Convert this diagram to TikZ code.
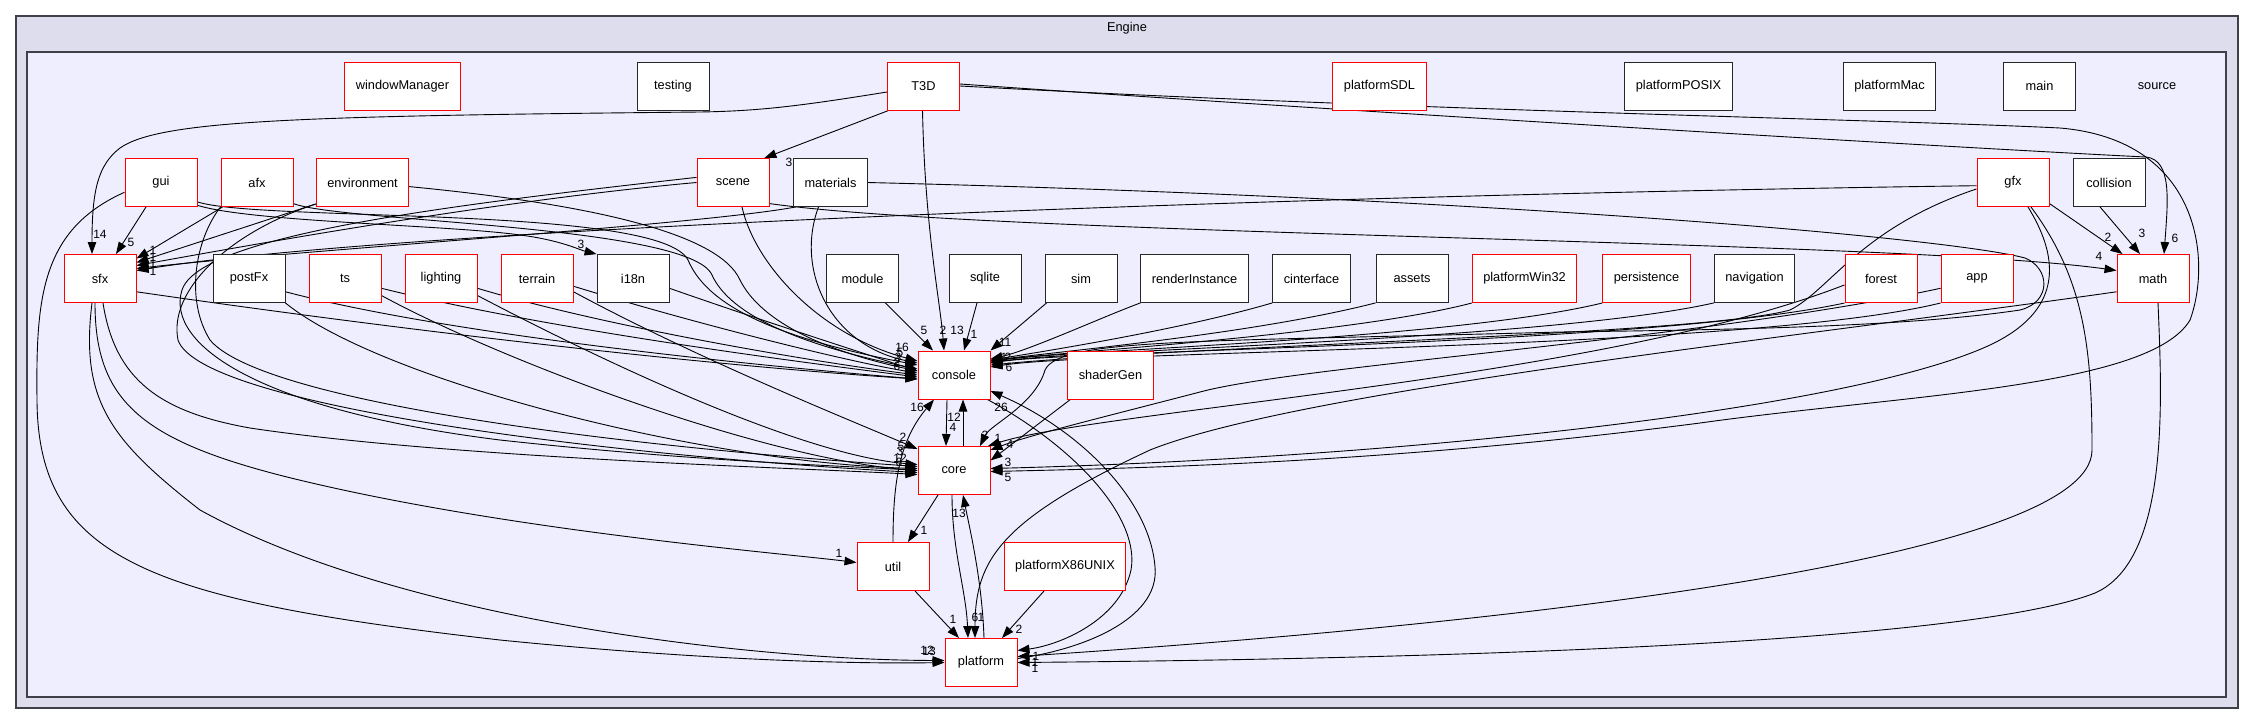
\documentclass[tikz,border=0pt]{standalone}
\usepackage{fontspec}
\setmainfont{Liberation Sans}
\usepackage{xcolor}
\usepackage{tikz}
\usetikzlibrary{arrows.meta,backgrounds}
\definecolor{clusterbg}{HTML}{DDDDEE}
\definecolor{sourcebg}{HTML}{EEEEFF}
\definecolor{frameline}{HTML}{404048}
\tikzset{
  >={Triangle[length=12pt,width=8.5pt]},
  every node/.style={font=\fontsize{12.8}{15}\selectfont,text=black},
  dirbox/.style={draw=black!85,line width=0.8pt,fill=white,minimum width=72pt,minimum height=48pt,inner xsep=11pt},
  subdirbox/.style={dirbox,draw=red,line width=1pt},
  dep/.style={->,line width=0.9pt,draw=black},
  num/.style={font=\fontsize{12}{14}\selectfont,inner sep=0pt}
}

\begin{document}
\begin{tikzpicture}[x=1pt,y=-1pt]
  \useasboundingbox (0,0) rectangle (2253,724);
  \begin{scope}[on background layer]
    \draw[fill=clusterbg,draw=frameline,line width=1.6pt] (16,16) rectangle (2238,708);
    \draw[fill=sourcebg,draw=frameline,line width=1.3pt] (27,52) rectangle (2226,697);
  \end{scope}
  \node (engine) at (1127,28) {Engine};
  \node (source) at (2157,86) {source};

  % directories
  \node[subdirbox] (windowManager) at (402.5,86) {windowManager};
  \node[dirbox] (testing) at (673,86) {testing};
  \node[subdirbox] (T3D) at (923.5,86) {T3D};
  \node[subdirbox] (platformSDL) at (1379.5,86) {platformSDL};
  \node[dirbox] (platformPOSIX) at (1678.5,86) {platformPOSIX};
  \node[dirbox] (platformMac) at (1889.5,86) {platformMac};
  \node[dirbox] (main) at (2039.5,86) {main};

  \node[subdirbox] (gui) at (161,182.5) {gui};
  \node[subdirbox] (afx) at (257,182.5) {afx};
  \node[subdirbox] (environment) at (362.5,182.5) {environment};
  \node[subdirbox] (scene) at (733,182.5) {scene};
  \node[dirbox] (materials) at (830.5,182.5) {materials};
  \node[subdirbox] (gfx) at (2013,182.5) {gfx};
  \node[dirbox] (collision) at (2109,182.5) {collision};

  \node[subdirbox] (sfx) at (100,278.5) {sfx};
  \node[dirbox] (postFx) at (249,278.5) {postFx};
  \node[subdirbox] (ts) at (345,278.5) {ts};
  \node[subdirbox] (lighting) at (441,278.5) {lighting};
  \node[subdirbox] (terrain) at (537,278.5) {terrain};
  \node[dirbox] (i18n) at (633,278.5) {i18n};
  \node[dirbox] (module) at (862.5,278.5) {module};
  \node[dirbox] (sqlite) at (985,278.5) {sqlite};
  \node[dirbox] (sim) at (1081,278.5) {sim};
  \node[dirbox] (renderInstance) at (1194.5,278.5) {renderInstance};
  \node[dirbox] (cinterface) at (1311.5,278.5) {cinterface};
  \node[dirbox] (assets) at (1412,278.5) {assets};
  \node[subdirbox] (platformWin32) at (1524.5,278.5) {platformWin32};
  \node[subdirbox] (persistence) at (1646.5,278.5) {persistence};
  \node[dirbox] (navigation) at (1754.5,278.5) {navigation};
  \node[subdirbox] (forest) at (1881,278.5) {forest};
  \node[subdirbox] (app) at (1977,278.5) {app};
  \node[subdirbox] (math) at (2153,278.5) {math};

  \node[subdirbox] (console) at (954,375) {console};
  \node[subdirbox] (shaderGen) at (1110.5,375) {shaderGen};
  \node[subdirbox] (core) at (954,470.5) {core};
  \node[subdirbox] (util) at (893,566.5) {util};
  \node[subdirbox] (platformX86UNIX) at (1065,566.5) {platformX86UNIX};
  \node[subdirbox] (platform) at (981,662.5) {platform};

  \begin{scope}[on background layer]
  % into sfx
  \draw[dep] ([yshift=-6]T3D.west) .. controls (800,106) and (760,111) .. (700,112) .. controls (300,116) and (160,120) .. (120,148) .. controls (98,165) and (92,190) .. ([xshift=-8]sfx.north);
  \draw[dep] ([xshift=-15]gui.south) -- ([xshift=16]sfx.north);
  \draw[dep] ([xshift=2]afx.south west) -- ([yshift=20]sfx.east);
  \draw[dep] ([yshift=3]environment.south west) -- ([yshift=16]sfx.east);
  \draw[dep] (scene.west) .. controls (500,200) and (250,245) .. ([yshift=13]sfx.east);
  \draw[dep] ([xshift=3]materials.south west) .. controls (700,225) and (300,250) .. ([yshift=10]sfx.east);
  \draw[dep] (gfx.185) .. controls (1300,195) and (400,228) .. ([yshift=8]sfx.east);

  % into console from the left
  \draw[dep] (gui.-28) .. controls (260,222) and (660,205) .. (688,260) .. controls (705,300) and (760,335) .. ([yshift=10]console.west);
  \draw[dep] (afx.-30) .. controls (340,222) and (690,225) .. (712,275) .. controls (730,315) and (800,345) .. ([yshift=6]console.west);
  \draw[dep] (environment.-5) .. controls (600,205) and (720,235) .. (740,280) .. controls (760,320) and (820,350) .. ([yshift=4]console.west);
  \draw[dep] ([xshift=9]scene.south) .. controls (755,265) and (820,335) .. ([yshift=14]console.west);
  \draw[dep] ([xshift=-12]materials.south) .. controls (795,270) and (830,345) .. ([yshift=12]console.west);
  \draw[dep] (sfx.-20) .. controls (400,330) and (700,365) .. ([yshift=-4]console.west);
  \draw[dep] (postFx.-20) .. controls (450,335) and (750,365) .. ([yshift=-4]console.west);
  \draw[dep] (ts.-15) .. controls (550,330) and (800,362) .. ([yshift=-2]console.west);
  \draw[dep] (lighting.-15) .. controls (600,325) and (800,360) .. (console.west);
  \draw[dep] (terrain.-12) .. controls (700,325) and (850,362) .. ([yshift=2]console.west);
  \draw[dep] (i18n.-15) .. controls (760,320) and (860,352) .. ([yshift=4]console.west);

  % into console from above and the right
  \draw[dep] ([xshift=-1]T3D.south) .. controls (925,230) and (940,300) .. ([xshift=-10]console.north);
  \draw[dep] ([xshift=23]module.south) -- ([xshift=-21]console.north);
  \draw[dep] ([xshift=-8]sqlite.south) -- ([xshift=10]console.north);
  \draw[dep] ([xshift=2]sim.south west) -- (console.north east);
  \draw[dep] (renderInstance.south west) .. controls (1100,318) and (1030,350) .. ([yshift=16]console.east);
  \draw[dep] (cinterface.south west) .. controls (1180,330) and (1040,352) .. ([yshift=15]console.east);
  \draw[dep] (assets.south west) .. controls (1250,335) and (1050,352) .. ([yshift=14]console.east);
  \draw[dep] (platformWin32.south west) .. controls (1350,335) and (1060,352) .. ([yshift=14]console.east);
  \draw[dep] (persistence.south west) .. controls (1450,340) and (1060,350) .. ([yshift=13]console.east);
  \draw[dep] (navigation.south west) .. controls (1550,340) and (1070,350) .. ([yshift=12]console.east);
  \draw[dep] (forest.south west) .. controls (1650,345) and (1080,350) .. ([yshift=12]console.east);
  \draw[dep] (app.south west) .. controls (1750,350) and (1100,350) .. ([yshift=8]console.east);
  \draw[dep] (gfx.-170) .. controls (1860,228) and (1830,290) .. (1790,310) .. controls (1700,335) and (1200,345) .. ([yshift=10]console.east);

  % into core
  \draw[dep] (afx.south west) .. controls (195,240) and (185,300) .. (210,340) .. controls (260,400) and (600,445) .. ([yshift=4]core.west);
  \draw[dep] ([yshift=3]environment.south west) .. controls (230,232) and (168,290) .. (178,340) .. controls (200,405) and (600,455) .. ([yshift=-2]core.west);
  \draw[dep] (scene.172) .. controls (450,205) and (200,235) .. (182,290) .. controls (165,345) and (260,410) .. (500,440) .. controls (700,462) and (850,466) .. (core.west);
  \draw[dep] ([xshift=3]sfx.south) .. controls (115,380) and (160,412) .. (250,428) .. controls (450,458) and (800,468) .. ([yshift=-4]core.west);
  \draw[dep] (postFx.south east) .. controls (380,380) and (700,462) .. ([yshift=2]core.west);
  \draw[dep] (ts.-25) .. controls (500,360) and (760,458) .. (core.west);
  \draw[dep] (lighting.-25) .. controls (600,360) and (800,455) .. ([yshift=6]core.west);
  \draw[dep] (terrain.-20) .. controls (700,360) and (850,420) .. ([yshift=-3]core.north west);
  \draw[dep] (materials.east) .. controls (1500,198) and (1950,238) .. (2025,258) .. controls (2050,268) and (2052,302) .. (2020,310) .. controls (1900,328) and (1700,330) .. (1560,332) .. controls (1200,342) and (1060,338) .. (1045,370) .. controls (1035,405) and (990,425) .. ([xshift=26]core.north);
  \draw[dep] (forest.-170) .. controls (1600,380) and (1100,410) .. ([xshift=34]core.north);
  \draw[dep] (app.-165) .. controls (1700,340) and (1300,365) .. (1200,392) .. controls (1100,418) and (1030,435) .. ([yshift=-4]core.north east);
  \draw[dep] ([xshift=3]shaderGen.south west) -- ([yshift=10]core.east);
  \draw[dep] ([xshift=15]gfx.south) .. controls (2062,262) and (2060,312) .. (1990,345) .. controls (1850,410) and (1400,458) .. ([yshift=2]core.east);
  \draw[dep] (T3D.east) .. controls (1400,110) and (1900,120) .. (2060,128) .. controls (2200,140) and (2212,260) .. (2190,320) .. controls (2150,388) and (1900,395) .. (1700,423) .. controls (1400,462) and (1150,468) .. ([yshift=-1]core.east);

  % console, core, util, platform
  \draw[dep] ([xshift=-7]console.south) -- ([xshift=-8]core.north);
  \draw[dep] ([xshift=9]core.north) -- ([xshift=9]console.south);
  \draw[dep] (util.north) .. controls (893,480) and (900,440) .. ([xshift=-20]console.south);
  \draw[dep] ([xshift=-16]core.south) -- ([xshift=15]util.north);
  \draw[dep] ([xshift=-2]core.south) .. controls (952,550) and (966,590) .. ([xshift=-13]platform.north);
  \draw[dep] ([xshift=3]platform.north) .. controls (982,580) and (970,530) .. ([xshift=9]core.south);
  \draw[dep] ([xshift=22]util.south) -- ([xshift=-22]platform.north);
  \draw[dep] ([xshift=-21]platformX86UNIX.south) -- ([xshift=21]platform.north);
  \draw[dep] ([xshift=-3]console.south east) .. controls (1080,450) and (1140,520) .. (1131,570) .. controls (1120,620) and (1060,645) .. ([yshift=12]platform.east);
  \draw[dep] ([yshift=4]platform.east) .. controls (1080,650) and (1160,620) .. (1155,567) .. controls (1150,500) and (1080,430) .. ([yshift=-16]console.east);
  \draw[dep] ([xshift=-5]sfx.south) .. controls (95,400) and (140,440) .. (287,477) .. controls (500,530) and (780,553) .. ([yshift=4]util.west);
  \draw[dep] ([xshift=-8]sfx.south) .. controls (80,400) and (110,440) .. (200,510) .. controls (400,620) and (750,660) .. ([yshift=2]platform.west);
  \draw[dep] (gui.-165) .. controls (40,230) and (36,300) .. (37,400) .. controls (38,560) and (150,600) .. (500,640) .. controls (700,660) and (850,664) .. (platform.west);
  \draw[dep] ([xshift=18]gfx.south) .. controls (2085,280) and (2092,350) .. (2092,450) .. controls (2092,560) and (1500,625) .. ([yshift=6]platform.east);
  \draw[dep] ([xshift=5]math.south) .. controls (2162,400) and (2170,560) .. (2095,593) .. controls (1950,650) and (1300,660) .. (platform.east);
  \draw[dep] (math.-160) .. controls (1800,337) and (1300,390) .. (1150,450) .. controls (1000,520) and (975,560) .. ([xshift=-6]platform.north);

  % into math and i18n
  \draw[dep] ([yshift=2]T3D.east) .. controls (1400,115) and (2000,150) .. (2146,157) .. controls (2172,160) and (2168,200) .. ([xshift=11]math.north);
  \draw[dep] (scene.-30) .. controls (1000,236) and (1900,240) .. ([yshift=8]math.west);
  \draw[dep] (gfx.-30) -- ([xshift=6]math.north west);
  \draw[dep] ([xshift=-9]collision.south) -- ([xshift=-13]math.north);
  \draw[dep] (T3D.215) -- (scene.38);
  \draw[dep] (gui.-32) .. controls (250,222) and (450,225) .. (520,235) .. controls (560,240) and (580,250) .. (i18n.north west);
  \end{scope}

  % counts
  \node[num] (c1) at (100,234) {14};
  \node[num] (c2) at (131,242) {5};
  \node[num] (c3) at (153,250) {1};
  \node[num] (c4) at (153,257) {1};
  \node[num] (c5) at (153,264) {1};
  \node[num] (c6) at (153,271) {1};
  \node[num] (c7) at (789,162) {3};
  \node[num] (c8) at (581,244) {3};
  \node[num] (c9) at (924,330) {5};
  \node[num] (c10) at (943,330) {2};
  \node[num] (c11) at (957,330) {13};
  \node[num] (c12) at (974,334) {1};
  \node[num] (c13) at (902,347) {16};
  \node[num] (c14) at (900,352) {5};
  \node[num] (c15) at (898,357) {3};
  \node[num] (c16) at (897,362) {2};
  \node[num] (c17) at (897,366) {6};
  \node[num] (c18) at (1005,342) {11};
  \node[num] (c19) at (1004,357) {1};
  \node[num] (c20) at (1008,357) {2};
  \node[num] (c21) at (1009,367) {6};
  \node[num] (c22) at (917,407) {16};
  \node[num] (c23) at (954,417) {12};
  \node[num] (c24) at (953,427) {4};
  \node[num] (c25) at (1001,407) {26};
  \node[num] (c26) at (985,435) {2};
  \node[num] (c27) at (998,438) {1};
  \node[num] (c28) at (1010,444) {4};
  \node[num] (c29) at (1008,462) {3};
  \node[num] (c30) at (1008,477) {5};
  \node[num] (c31) at (903,437) {2};
  \node[num] (c32) at (901,446) {5};
  \node[num] (c33) at (900,451) {3};
  \node[num] (c34) at (900,458) {12};
  \node[num] (c35) at (899,462) {6};
  \node[num] (c36) at (959,513) {13};
  \node[num] (c37) at (924,530) {1};
  \node[num] (c38) at (839,553) {1};
  \node[num] (c39) at (953,619) {1};
  \node[num] (c40) at (975,617) {6};
  \node[num] (c41) at (981,617) {1};
  \node[num] (c42) at (1019,629) {2};
  \node[num] (c43) at (927,650) {12};
  \node[num] (c44) at (929,651) {13};
  \node[num] (c45) at (1036,656) {1};
  \node[num] (c46) at (1035,662) {1};
  \node[num] (c47) at (1035,668) {1};
  \node[num] (c48) at (2108,237) {2};
  \node[num] (c49) at (2142,233) {3};
  \node[num] (c50) at (2175,238) {6};
  \node[num] (c51) at (2099,256) {4};
\end{tikzpicture}
\end{document}
